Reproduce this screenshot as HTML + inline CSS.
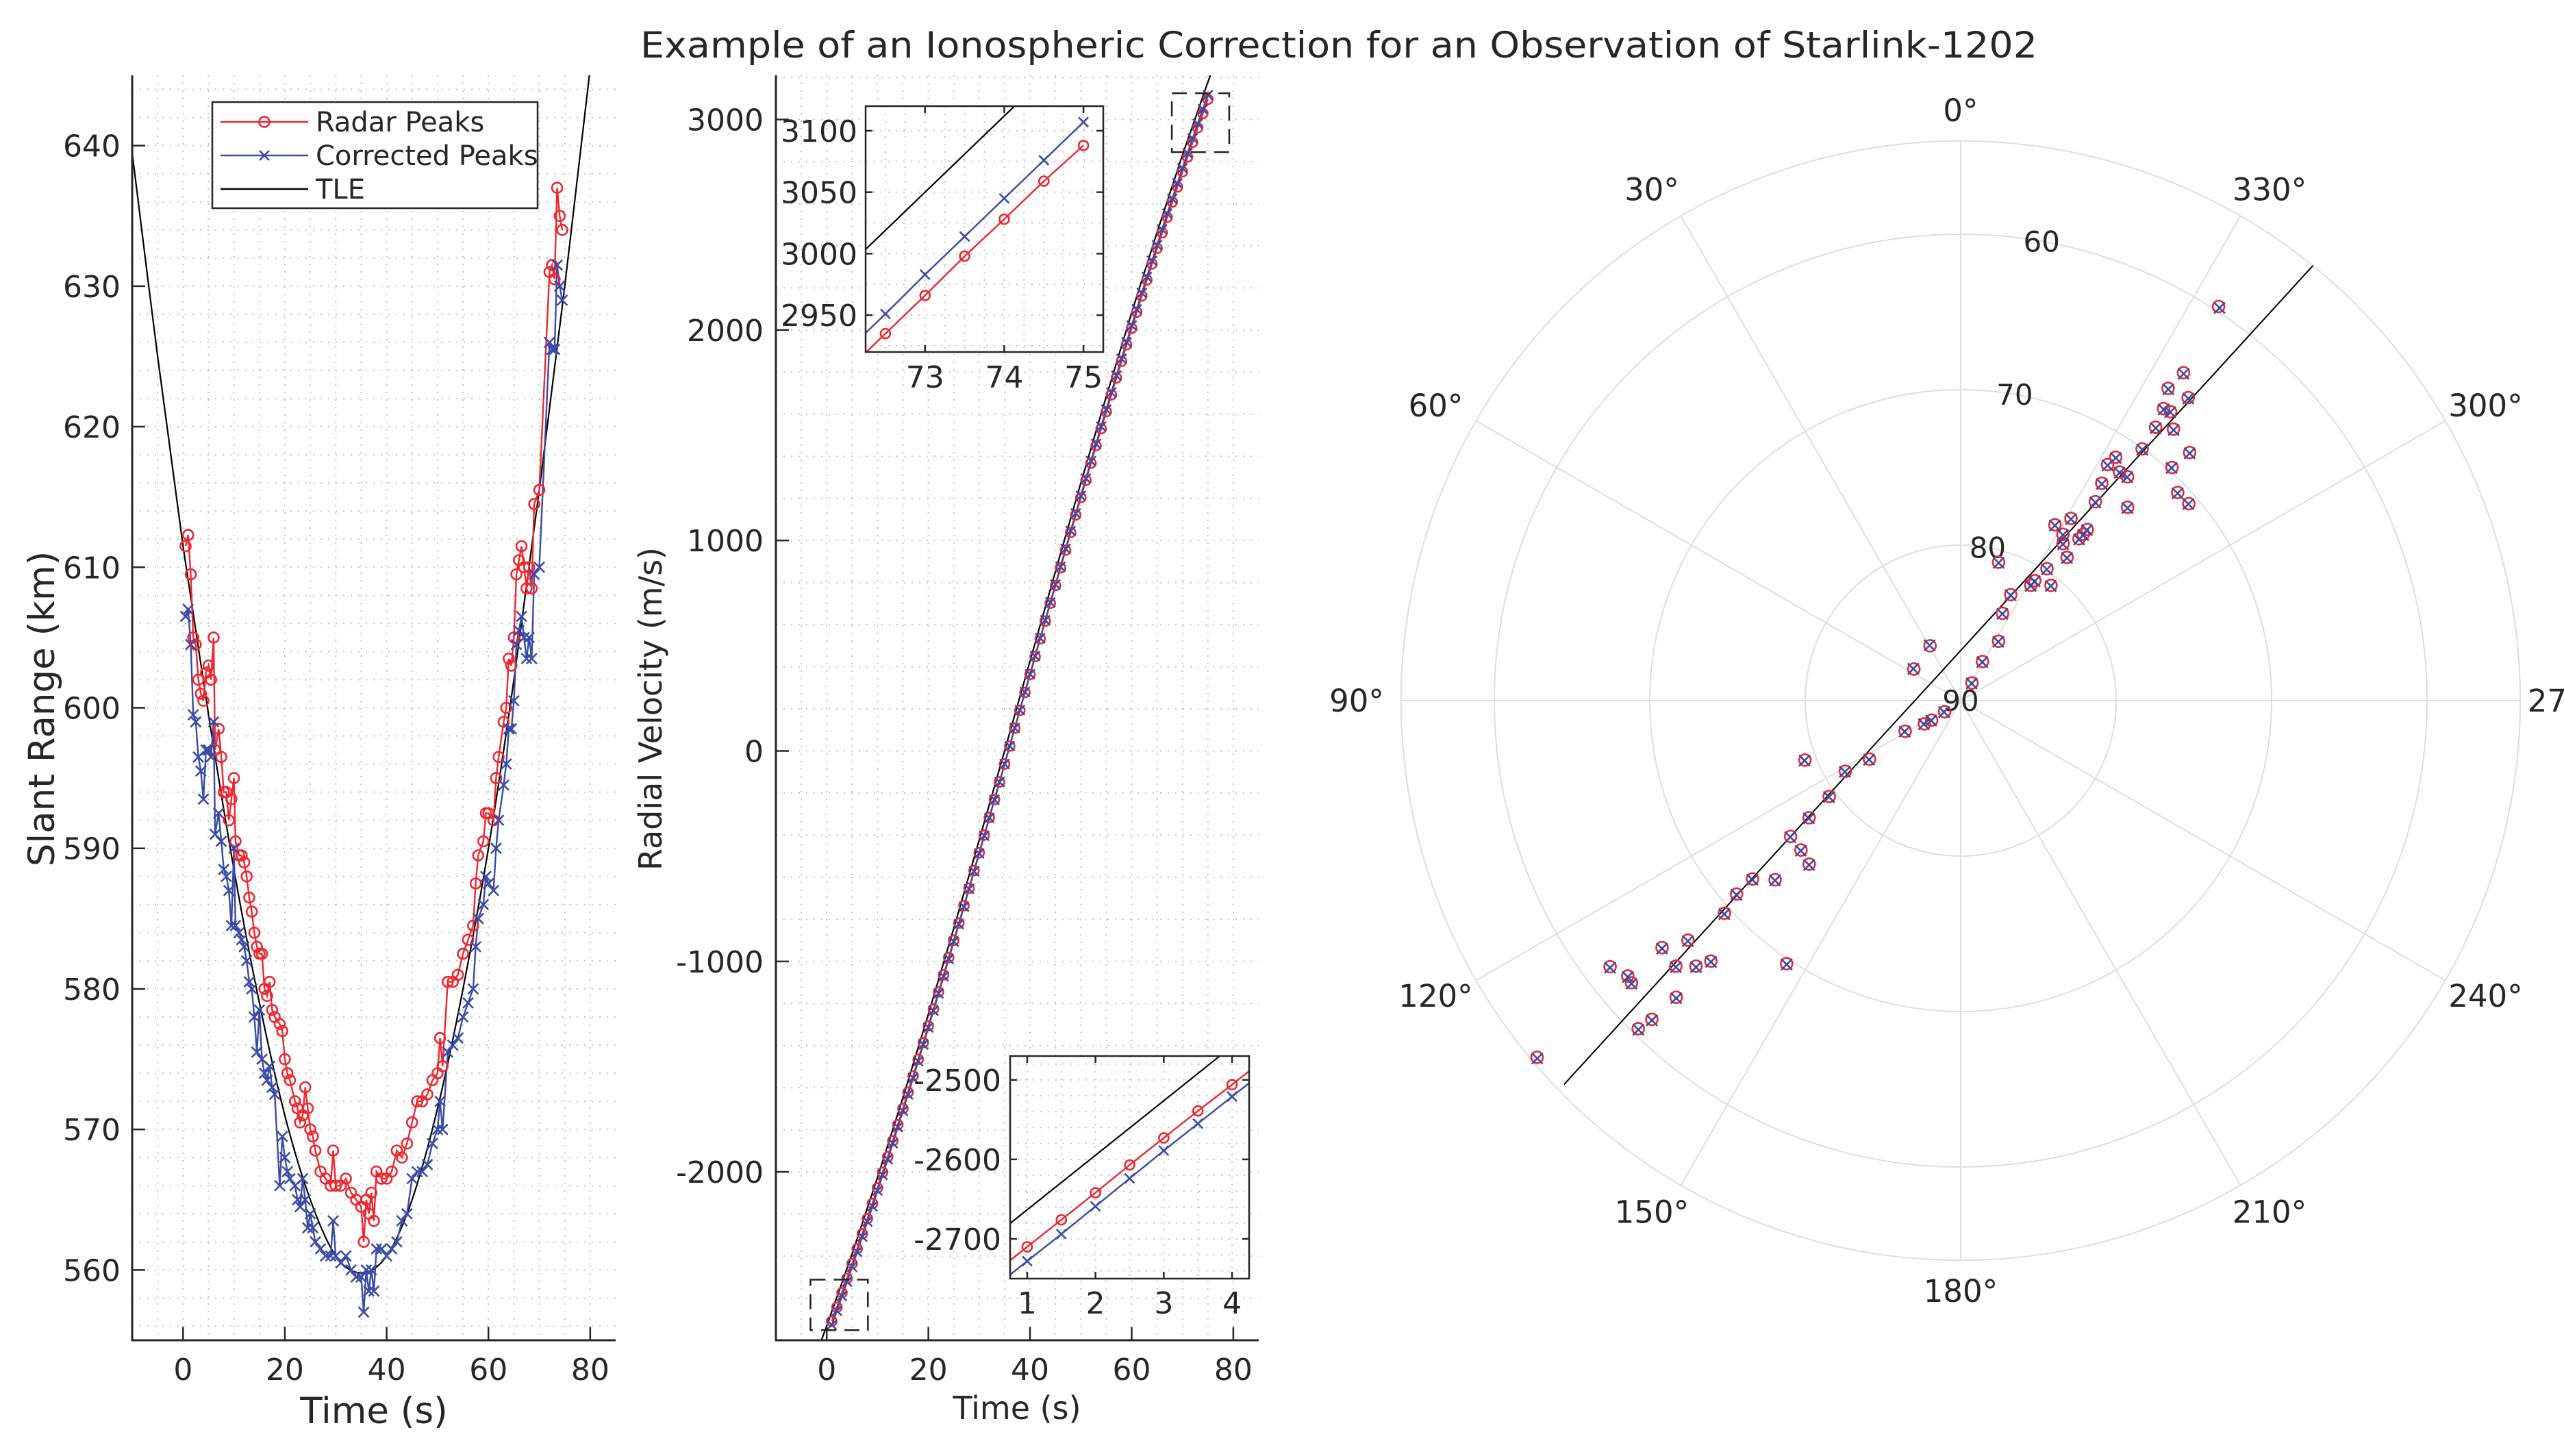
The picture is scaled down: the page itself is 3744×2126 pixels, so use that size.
<!DOCTYPE html>
<html><head><meta charset="utf-8"><title>Ionospheric Correction - Starlink-1202</title>
<style>
html,body{margin:0;padding:0;background:#fff;overflow:hidden;}
svg{display:block;font-family:"DejaVu Sans","Liberation Sans",sans-serif;}
</style></head>
<body>
<svg id="chart" width="3744" height="2126" viewBox="0 0 3744 2126" xmlns="http://www.w3.org/2000/svg">
<rect x="0" y="0" width="3744" height="2126" fill="#ffffff"/>
<text x="1955" y="84" font-size="53" fill="#262626" text-anchor="middle" textLength="2040" lengthAdjust="spacingAndGlyphs">Example of an Ionospheric Correction for an Observation of Starlink-1202</text>
</svg>
<script>
// ---------- Slant range data ----------
const srTime = [0.5,1,1.5,2,2.5,3,3.5,4,4.5,5,5.5,6,6.3,7,7.5,8,8.5,9,9.5,10,10.3,11,11.5,12,12.5,13,13.5,14,14.5,15,15.5,16,16.5,17,17.5,18,19,19.5,20,20.5,21,22,22.5,23,23.5,24,24.5,25,25.5,26,27,28,29,29.5,30,31,32,33,34,35,35.5,36,36.5,37,37.5,38,39,40,41,42,43,44,45,46,47,48,49,50,50.5,51,52,53,54,55,56,57,57.5,58,59,59.5,60,61,61.5,62,63,63.5,64,64.5,65,65.5,66,66.5,67,67.5,68,68.5,69,70,72,72.5,73,73.5,74,74.5];
const srRadar = [611.5,612.3,609.5,605,604.5,602,601,600.5,602.5,603,602,605,597,598.5,596.5,594,594,592,593.5,595,590.5,589.5,589.5,589,588,586.5,585.5,584,583,582.5,582.5,580,579.5,580.5,578.5,578,577.5,577,575,574,573.5,572,571.5,570.5,571,573,571.5,570,569.5,568.5,567,566.5,566,568.5,566,566,566.5,565.5,565,564.5,562,565,564,565.5,563.5,567,566.5,566.5,567,568.5,568,569,570.5,572,572,572.5,573.5,574,576.5,574.5,580.5,580.5,581,582.5,583.5,584.5,587.5,589.5,590.5,592.5,592.5,592,595,596.5,599,600,603.5,603,605,609.5,610.5,611.5,610,608.5,610,608.5,614.5,615.5,631,631.5,630.5,637,635,634];
const srCorrected = [606.5,607,604.5,599.5,599,596.5,595.5,593.5,597,597,596.5,599,591,592.5,590.5,588.5,588,587,584.5,590,584.5,584,583.5,583,582,580.5,580,578,575.5,578.5,575,574,573.5,574.5,573,572.5,566,569.5,568,567,566.5,566,565,564.5,566.5,565,563,564,563,562,561.5,561,561,563.5,561,560.5,561,560,559.5,559.5,557,560,558.5,560,558.5,561.5,561.5,561,561.5,562,563.5,564,566.5,567,567,567.5,569,570,572,570,575.5,576,576.5,578,579,580,583,585,586,588,587.5,587,590,592,594.5,596,598.5,598.5,600.5,604.5,605.5,606.5,605,603.5,605,603.5,609.5,610,626,625.5,625.5,631.5,630,629];
const srTleTime = [-10,-5,0,5,10,15,20,25,30,35,40,45,50,55,60,65,70,75,80,85];
const srTle = [639.5,625,611.5,599.5,588.5,579,571,565,561,559.8,561,565,571.5,580,590,602,615.5,630,645.5,662];
const srYTicks = [560,570,580,590,600,610,620,630,640];
const timeTicks = [0,20,40,60,80];

// ---------- Radial velocity data ----------
const rvTime = [1,2,3,4,5,6,7,8,9,10,11,12,13,14,15,16,17,18,19,20,21,22,23,24,25,26,27,28,29,30,31,32,33,34,35,36,37,38,39,40,41,42,43,44,45,46,47,48,49,50,51,52,53,54,55,56,57,58,59,60,61,62,63,64,65,66,67,68,69,70,71,72,73,74,75];
const rvRadar = [-2710,-2643,-2574,-2506,-2436,-2365,-2294,-2222,-2150,-2076,-2002,-1928,-1852,-1776,-1699,-1622,-1544,-1465,-1386,-1306,-1226,-1145,-1064,-982,-900,-818,-735,-652,-568,-484,-400,-316,-231,-147,-62,23,108,193,278,363,448,533,617,702,786,870,954,1038,1121,1204,1286,1368,1450,1531,1612,1692,1772,1851,1930,2008,2085,2162,2238,2314,2388,2462,2536,2608,2680,2752,2822,2892,2961,3029,3096];
const rvCorrected = [-2727,-2660,-2590,-2522,-2451,-2380,-2308,-2236,-2164,-2089,-2015,-1940,-1864,-1787,-1710,-1632,-1554,-1474,-1395,-1314,-1234,-1152,-1071,-988,-906,-823,-740,-656,-572,-487,-403,-318,-232,-148,-62,23,109,194,280,365,451,536,621,706,791,875,960,1045,1128,1212,1294,1377,1459,1541,1622,1703,1783,1863,1942,2021,2098,2176,2252,2329,2403,2478,2553,2624,2697,2769,2840,2910,2980,3049,3116];
const rvTleTime = [-5,0,5,10,15,20,25,30,35,40,45,50,55,60,65,70,75,80];
const rvTle = [-3056,-2732,-2389,-2026,-1647,-1251,-843,-424,0,428,853,1274,1684,2083,2465,2832,3178,3507];
const rvYTicks = [-2000,-1000,0,1000,2000,3000];

// inset (end of pass)
const endTime = [72,72.5,73,73.5,74,74.5,75];
const endRadar = [2904,2935,2966,2998,3028,3059,3088];
const endCorrected = [2920,2951,2983,3014,3045,3076,3107];
const endTleTime = [72,74.5];
const endTle = [2988,3143];
const endXTicks = [73,74,75];
const endYTicks = [2950,3000,3050,3100];
// inset (start of pass)
const startTime = [0.5,1,1.5,2,2.5,3,3.5,4,4.5];
const startRadar = [-2744,-2710,-2676,-2642,-2607,-2573,-2539,-2506,-2472];
const startCorrected = [-2762,-2728,-2694,-2659,-2624,-2589,-2555,-2521,-2487];
const startXTicks = [1,2,3,4];
const startYTicks = [-2700,-2600,-2500];

// ---------- Sky plot data (azimuth deg, elevation deg) ----------
const skyRadarAz = [326.8,325.8,326.4,323.1,324.0,324.5,321.9,317.3,324.2,317.8,313.8,310.8,327.5,325.2,323.3,319.2,327.0,325.9,328.8,323.5,323.8,326.9,323.4,326.8,328.7,334.7,344.7,334.4,327.5,330.8,327.4,124.6,123.9,122.6,118.9,29.2,56.0,122.7,121.5,110.9,126.1,127.7,128.6,133.1,137.2,134.0,130.6,130.8,132.0,146.5,136.2,135.1,133.0,131.3,129.6,136.2,130.6,127.2,129.6,135.9,135.5,130.1,331.8,323.6,328.3,321.9,328.4,325.2,328.1];
const skyRadarEl = [59.70,64.50,65.89,65.63,67.03,68.40,67.81,68.28,70.04,69.76,70.66,70.61,71.44,72.09,72.04,73.57,73.33,74.55,76.30,76.31,77.10,77.94,78.52,79.86,81.32,82.46,80.77,83.77,85.47,87.12,88.65,88.74,87.75,87.23,85.92,85.96,86.37,83.03,81.30,79.28,79.54,77.68,76.00,75.93,75.66,73.41,72.37,70.96,69.55,69.71,66.79,65.88,64.95,66.65,65.07,63.56,62.11,61.69,62.21,61.45,60.41,54.38,77.17,76.71,80.93,80.58,77.44,67.13,72.12];
const skyCorrAz = [326.6,325.7,326.3,323.0,324.0,324.4,321.8,317.2,324.1,317.8,313.7,310.8,327.4,325.1,323.3,319.1,326.9,325.8,328.7,323.5,323.7,326.8,323.3,326.7,328.6,334.6,344.6,334.3,327.4,330.7,327.3,124.7,124.0,122.7,119.0,29.3,56.1,122.8,121.6,111.0,126.2,127.8,128.7,133.2,137.3,134.1,130.7,130.9,132.1,146.6,136.3,135.2,133.1,131.4,129.7,136.3,130.7,127.3,129.7,136.0,135.6,130.2,331.7,323.5,328.2,321.8,328.3,325.1,328.0];
const skyCorrEl = [59.75,64.55,65.93,65.67,67.07,68.44,67.85,68.32,70.08,69.80,70.70,70.65,71.48,72.13,72.08,73.61,73.37,74.59,76.34,76.35,77.14,77.98,78.56,79.90,81.36,82.50,80.81,83.81,85.51,87.16,88.69,88.70,87.71,87.19,85.88,85.92,86.33,82.99,81.26,79.24,79.50,77.64,75.96,75.89,75.62,73.37,72.33,70.92,69.51,69.67,66.75,65.84,64.91,66.61,65.03,63.52,62.07,61.65,62.17,61.41,60.37,54.34,77.21,76.75,80.97,80.62,77.48,67.17,72.16];
const skyTleAz = [134.06,132.8,130.4,123.4,110.8,47.4,344.2,331.6,324.7,322.3,321.0];
const skyTleEl = [54.50,63.93,72.55,81.08,85.16,87.83,85.15,81.07,72.54,63.93,54.0];
const skyRings = [60,70,80];
const skySpokes = [0,30,60,90,120,150,180,210,240,270,300,330];

// ---------- helpers ----------
const NS = "http://www.w3.org/2000/svg";
const svg = document.getElementById('chart');
const RED = "#f0262e", BLUE = "#3a4aa6", INK = "#262626", GRID = "#c4c4c4";
let clipN = 0;
function mk(tag, attrs, parent){
  const e = document.createElementNS(NS, tag);
  for (const k in attrs) e.setAttribute(k, attrs[k]);
  (parent || svg).appendChild(e);
  return e;
}
function txt(parent, x, y, s, size, anchor, extra){
  const t = mk('text', Object.assign({x:x, y:y, 'font-size':size, fill:INK, 'text-anchor':anchor||'middle'}, extra||{}), parent);
  t.textContent = s;
  return t;
}
function linScale(d0,d1,r0,r1){ return v => r0 + (v-d0)/(d1-d0)*(r1-r0); }
function polyPath(xs, ys, sx, sy){
  let d = '';
  for (let i=0;i<xs.length;i++) d += (i? 'L':'M') + sx(xs[i]).toFixed(1) + ' ' + sy(ys[i]).toFixed(1);
  return d;
}
function smoothPath(xs, ys, sx, sy){
  const p = xs.map((x,i)=>[sx(x), sy(ys[i])]);
  let d = 'M'+p[0][0].toFixed(1)+' '+p[0][1].toFixed(1);
  for (let i=0;i<p.length-1;i++){
    const p0=p[Math.max(i-1,0)], p1=p[i], p2=p[i+1], p3=p[Math.min(i+2,p.length-1)];
    const c1=[p1[0]+(p2[0]-p0[0])/6, p1[1]+(p2[1]-p0[1])/6];
    const c2=[p2[0]-(p3[0]-p1[0])/6, p2[1]-(p3[1]-p1[1])/6];
    d += 'C'+c1[0].toFixed(1)+' '+c1[1].toFixed(1)+' '+c2[0].toFixed(1)+' '+c2[1].toFixed(1)+' '+p2[0].toFixed(1)+' '+p2[1].toFixed(1);
  }
  return d;
}
function circleMark(g, x, y, r){
  return mk('circle', {cx:x.toFixed(1), cy:y.toFixed(1), r:r, fill:'none', stroke:RED, 'stroke-width':2.6}, g);
}
function crossMark(g, x, y, s){
  return mk('path', {d:'M'+(x-s)+' '+(y-s)+'L'+(x+s)+' '+(y+s)+'M'+(x-s)+' '+(y+s)+'L'+(x+s)+' '+(y-s), stroke:BLUE, 'stroke-width':2.6, fill:'none'}, g);
}

// Axes builder
function buildAxes(name, box, xlim, ylim, o){
  const g = mk('g', {});
  
  
  const sx = linScale(xlim[0], xlim[1], box.x0, box.x1);
  const sy = linScale(ylim[0], ylim[1], box.y1, box.y0);
  const bg = mk('rect', {x:box.x0, y:box.y0, width:box.x1-box.x0, height:box.y1-box.y0, fill:'#fff'}, g);
  
  
  const gg = mk('g', {stroke:GRID, 'stroke-width':2, 'stroke-dasharray':'2 9'}, g);
  
  
  const fx = Math.ceil(xlim[0]/o.xMinor)*o.xMinor;
  for (let v=fx; v<=xlim[1]+1e-9; v+=o.xMinor){
    const X = sx(v); if (X<=box.x0+1 || X>=box.x1-1) continue;
    mk('line', {x1:X, y1:box.y0, x2:X, y2:box.y1}, gg);
  }
  const fy = Math.ceil(ylim[0]/o.yMinor)*o.yMinor;
  for (let v=fy; v<=ylim[1]+1e-9; v+=o.yMinor){
    const Y = sy(v); if (Y<=box.y0+1 || Y>=box.y1-1) continue;
    mk('line', {x1:box.x0, y1:Y, x2:box.x1, y2:Y}, gg);
  }
  const id = 'clip'+(clipN++);
  const cp = mk('clipPath', {id:id}, g);
  mk('rect', {x:box.x0, y:box.y0, width:box.x1-box.x0, height:box.y1-box.y0}, cp);
  const data = mk('g', {'clip-path':'url(#'+id+')'}, g);
  
  
  const ax = mk('g', {stroke:INK, 'stroke-width':o.lw||3, fill:'none'}, g);
  
  
  if (o.box) mk('rect', {x:box.x0, y:box.y0, width:box.x1-box.x0, height:box.y1-box.y0}, ax);
  else mk('path', {d:'M'+box.x0+' '+box.y0+'L'+box.x0+' '+box.y1+'L'+box.x1+' '+box.y1}, ax);
  const tl = o.tickLen || 19;
  const xtg = mk('g', {}, g);
  
  
  o.xTicks.forEach(v => {
    const X = sx(v);
    mk('line', {x1:X, y1:box.y1, x2:X, y2:box.y1-tl, stroke:INK, 'stroke-width':2.5}, ax);
    if (o.box) mk('line', {x1:X, y1:box.y0, x2:X, y2:box.y0+tl, stroke:INK, 'stroke-width':2.5}, ax);
    const t = txt(xtg, X, o.xLabelY, String(v), o.fs||44, 'middle');
    
    
  });
  const ytg = mk('g', {}, g);
  
  
  o.yTicks.forEach(v => {
    const Y = sy(v);
    mk('line', {x1:box.x0, y1:Y, x2:box.x0+tl, y2:Y, stroke:INK, 'stroke-width':2.5}, ax);
    if (o.box) mk('line', {x1:box.x1, y1:Y, x2:box.x1-tl, y2:Y, stroke:INK, 'stroke-width':2.5}, ax);
    const t = txt(ytg, o.yLabelX, Y+16, String(v), o.fs||44, 'end');
    
    
  });
  return {g:g, data:data, sx:sx, sy:sy};
}
function drawSeries(A, xs, radar, corr, tleX, tleY, ms, smooth){
  const tl = mk('path', {d: smooth ? smoothPath(tleX, tleY, A.sx, A.sy) : polyPath(tleX, tleY, A.sx, A.sy), fill:'none', stroke:'#000', 'stroke-width':2.2}, A.data);
  
  
  const rl = mk('path', {d: polyPath(xs, radar, A.sx, A.sy), fill:'none', stroke:RED, 'stroke-width':2.4}, A.data);
  
  
  const cl = mk('path', {d: polyPath(xs, corr, A.sx, A.sy), fill:'none', stroke:BLUE, 'stroke-width':2.4}, A.data);
  
  
  for (let i=0;i<xs.length;i++){
    const c = circleMark(A.data, A.sx(xs[i]), A.sy(radar[i]), ms);
    
    
  }
  for (let i=0;i<xs.length;i++){
    const c = crossMark(A.data, A.sx(xs[i]), A.sy(corr[i]), ms);
    
    
  }
}

// ---------- Panel 1: slant range ----------
const A1 = buildAxes('slant-range-axes', {x0:193, x1:899, y0:110, y1:1957}, [-10,85], [555,645],
  {xMinor:5, yMinor:2, xTicks:timeTicks, yTicks:srYTicks, xLabelY:2015, yLabelX:176});
drawSeries(A1, srTime, srRadar, srCorrected, srTleTime, srTle, 7.5, true);
let t1 = txt(svg, 546, 2078, 'Time (s)', 53, 'middle');


let t2 = txt(svg, 0, 0, 'Slant Range (km)', 53, 'middle', {transform:'translate(79,1035) rotate(-90)'});



// legend
const lg = mk('g', {});


mk('rect', {x:310, y:149, width:475, height:155, fill:'#fff', stroke:INK, 'stroke-width':2.5}, lg);
const legRows = [['Radar Peaks', RED, 'o', 178], ['Corrected Peaks', BLUE, 'x', 227], ['TLE', '#000', '', 276]];
legRows.forEach(r => {
  const e = mk('g', {}, lg);
  
  
  mk('line', {x1:322, y1:r[3], x2:450, y2:r[3], stroke:r[1], 'stroke-width':2.4}, e);
  if (r[2]==='o') circleMark(e, 386, r[3], 7.5);
  if (r[2]==='x') crossMark(e, 386, r[3], 7);
  txt(e, 461, r[3]+14, r[0], 40, 'start');
});

// ---------- Panel 2: radial velocity ----------
const A2 = buildAxes('radial-velocity-axes', {x0:1133, x1:1838, y0:110, y1:1957}, [-10,85], [-2800,3210],
  {xMinor:5, yMinor:200, xTicks:timeTicks, yTicks:rvYTicks, xLabelY:2015, yLabelX:1115});
drawSeries(A2, rvTime, rvRadar, rvCorrected, rvTleTime, rvTle, 7, false);
const zb1 = mk('rect', {x:A2.sx(-3.2), y:A2.sy(-2512), width:A2.sx(8.1)-A2.sx(-3.2), height:A2.sy(-2752)-A2.sy(-2512), fill:'none', stroke:'#222', 'stroke-width':2.5, 'stroke-dasharray':'22 12'}, A2.g);


const zb2 = mk('rect', {x:A2.sx(67.9), y:A2.sy(3125), width:A2.sx(79.2)-A2.sx(67.9), height:A2.sy(2845)-A2.sy(3125), fill:'none', stroke:'#222', 'stroke-width':2.5, 'stroke-dasharray':'22 12'}, A2.g);


let t3 = txt(svg, 1485, 2072, 'Time (s)', 46, 'middle');


let t4 = txt(svg, 0, 0, 'Radial Velocity (m/s)', 46, 'middle', {transform:'translate(966,1035) rotate(-90)'});



// insets
const A3 = buildAxes('end-inset-axes', {x0:1264, x1:1611, y0:155, y1:514}, [72.25,75.25], [2920,3120],
  {xMinor:0.25, yMinor:25, xTicks:endXTicks, yTicks:endYTicks, xLabelY:566, yLabelX:1252, box:true, tickLen:10, lw:2.5});
drawSeries(A3, endTime, endRadar, endCorrected, endTleTime, endTle, 7, false);
const A4 = buildAxes('start-inset-axes', {x0:1475, x1:1824, y0:1542, y1:1867}, [0.75,4.25], [-2750,-2470],
  {xMinor:0.5, yMinor:20, xTicks:startXTicks, yTicks:startYTicks, xLabelY:1918, yLabelX:1462, box:true, tickLen:10, lw:2.5});
drawSeries(A4, startTime, startRadar, startCorrected, rvTleTime, rvTle, 7, false);

// ---------- Panel 3: sky plot ----------
const CX = 2863, CY = 1023, PPD = 22.7, EL_MIN = 54;
function pxy(az, el){
  const r = (90-el)*PPD, a = az*Math.PI/180;
  return [CX - r*Math.sin(a), CY - r*Math.cos(a)];
}
const pg = mk('g', {});


const pgrid = mk('g', {stroke:'#dedede', 'stroke-width':2, fill:'none'}, pg);


skySpokes.forEach(a => {
  const p = pxy(a, EL_MIN);
  mk('line', {x1:CX, y1:CY, x2:p[0].toFixed(1), y2:p[1].toFixed(1)}, pgrid);
});
skyRings.forEach(el => mk('circle', {cx:CX, cy:CY, r:(90-el)*PPD}, pgrid));
mk('circle', {cx:CX, cy:CY, r:(90-EL_MIN)*PPD}, pgrid);
skySpokes.forEach(a => {
  const r = 862, ang = a*Math.PI/180;
  const s = -Math.sin(ang);
  const xo = Math.abs(s) > 0.01 ? Math.sign(s)*20 : 0;
  const t = txt(pg, CX + r*s + xo, CY - r*Math.cos(ang) + 16, a+'°', 45, 'middle');
  
  
});
skyRings.concat([90]).forEach(el => {
  const p = pxy(350, el);
  const t = txt(pg, p[0], p[1] + 15, String(el), 42, 'middle');
  
  
});
const tlePts = skyTleAz.map((a,i)=>pxy(a, skyTleEl[i]));
const tleSky = mk('path', {d: tlePts.map((p,i)=>(i?'L':'M')+p[0].toFixed(1)+' '+p[1].toFixed(1)).join(''), fill:'none', stroke:'#000', 'stroke-width':2}, pg);


for (let i=0;i<skyRadarAz.length;i++){
  const p = pxy(skyRadarAz[i], skyRadarEl[i]);
  const c = circleMark(pg, p[0], p[1], 8.5);
  
  
}
for (let i=0;i<skyCorrAz.length;i++){
  const p = pxy(skyCorrAz[i], skyCorrEl[i]);
  const c = crossMark(pg, p[0], p[1], 8);
  
  
}
</script>
</body></html>
